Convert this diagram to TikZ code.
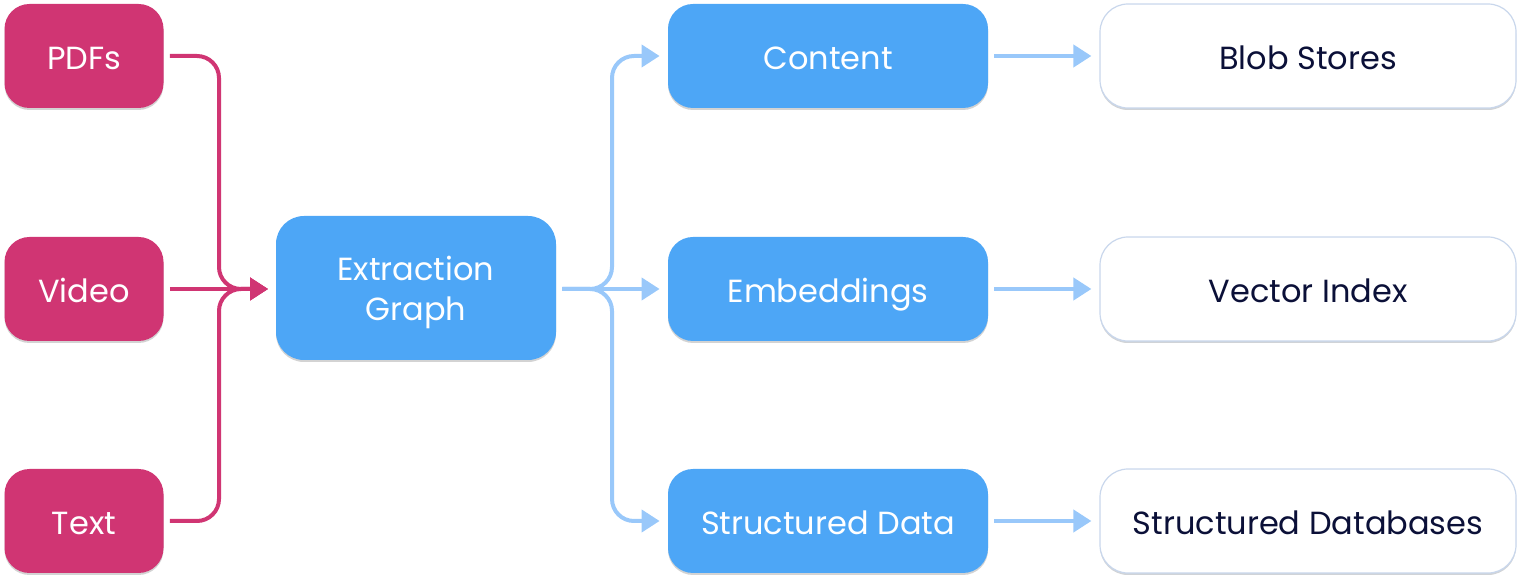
\documentclass[tikz,border=0pt]{standalone}
\usepackage{fontspec}
\setmainfont{Poppins}
\usetikzlibrary{arrows.meta,shadows,calc}
\definecolor{pinkbox}{HTML}{D03573}
\definecolor{bluebox}{HTML}{4DA6F6}
\definecolor{blueline}{HTML}{99C8FA}
\definecolor{navytext}{HTML}{0B1038}
\definecolor{whiteborder}{HTML}{C9D7EC}
\newcommand{\boxlabel}[1]{\smash{\raisebox{-6.6pt}{#1}}}
\newcommand{\twolabel}[2]{\smash{\raisebox{-6.4pt}{\begin{tabular}{@{}c@{}}#1\\#2\end{tabular}}}}
\begin{document}
\begin{tikzpicture}[x=0.5pt,y=-0.5pt,
  base/.style={rectangle,inner sep=0pt,font=\fontsize{16}{20}\selectfont,
    drop shadow={shadow xshift=0pt,shadow yshift=-1pt,opacity=0.35,fill=gray}},
  srcbox/.style={base,fill=pinkbox,text=white,minimum width=79.5pt,minimum height=52pt,rounded corners=12.5pt},
  midbox/.style={base,fill=bluebox,text=white,minimum width=160pt,minimum height=52pt,rounded corners=12.5pt},
  egbox/.style={base,fill=bluebox,text=white,minimum width=140pt,minimum height=72pt,rounded corners=14pt},
  storebox/.style={base,fill=white,draw=whiteborder,line width=0.6pt,text=navytext,minimum width=208pt,minimum height=52pt,rounded corners=14pt,
    drop shadow={shadow xshift=0pt,shadow yshift=-0.8pt,opacity=0.3,fill=whiteborder}},
  pinkln/.style={draw=pinkbox,line width=2pt,rounded corners=11pt},
  blueln/.style={draw=blueline,line width=2pt,rounded corners=11pt},
  tip/.style={-{Triangle[length=9pt,width=11pt]}}
]
\useasboundingbox (0,0) rectangle (1520,576);
% sources
\node[srcbox] (pdf) at (84,56) {\boxlabel{PDFs}};
\node[srcbox] (vid) at (84,289) {\boxlabel{Video}};
\node[srcbox] (txt) at (84,521) {\boxlabel{Text}};
% extraction graph
\node[egbox] (eg) at (416,288) {\twolabel{Extraction}{Graph}};
% outputs
\node[midbox] (cont) at (828,56) {\boxlabel{Content}};
\node[midbox] (emb) at (828,289) {\boxlabel{Embeddings}};
\node[midbox] (sd) at (828,521) {\boxlabel{Structured Data}};
% stores
\node[storebox] (blob) at (1308,56) {\boxlabel{Blob Stores}};
\node[storebox] (vec) at (1308,289) {\boxlabel{Vector Index}};
\node[storebox] (sdb) at (1308,521) {\boxlabel{Structured Databases}};
% junction coordinates
\coordinate (jin) at (219,289);
\coordinate (jout) at (612,289);
\coordinate (egin) at (268,289);
% pink connectors
\draw[pinkln,tip,shorten <=3pt] (pdf.east) -| (jin) -- (egin);
\draw[pinkln,tip,shorten <=3pt] (txt.east) -| (jin) -- (egin);
\draw[pinkln,tip,shorten <=3pt,shorten >=0pt] (vid.east) -- (egin);
% blue connectors
\draw[blueln,tip,shorten <=3pt,shorten >=4pt] (eg.east |- jout) -- (jout) |- (cont.west);
\draw[blueln,tip,shorten <=3pt,shorten >=4pt] (eg.east |- jout) -- (jout) |- (sd.west);
\draw[blueln,tip,shorten <=3pt,shorten >=4pt] (eg.east |- jout) -- (emb.west);
\draw[blueln,tip,shorten <=3pt,shorten >=4pt] (cont.east) -- (blob.west);
\draw[blueln,tip,shorten <=3pt,shorten >=4pt] (emb.east) -- (vec.west);
\draw[blueln,tip,shorten <=3pt,shorten >=4pt] (sd.east) -- (sdb.west);
\end{tikzpicture}
\end{document}
